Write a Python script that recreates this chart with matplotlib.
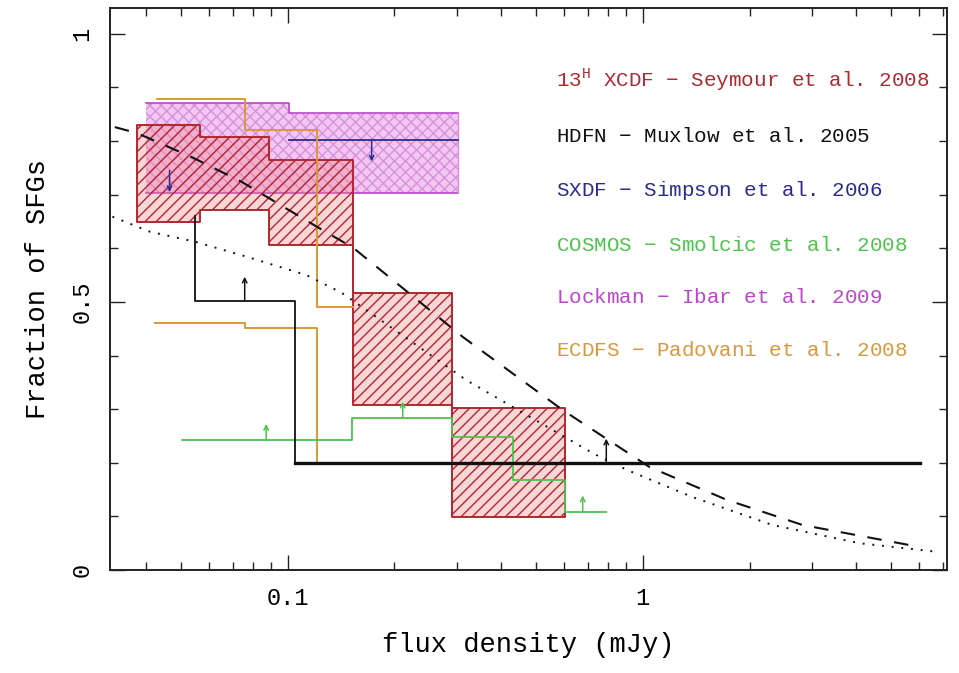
import matplotlib
matplotlib.use("Agg")
import matplotlib.pyplot as plt
from matplotlib.ticker import FixedLocator, MultipleLocator, NullFormatter

# ---- data (flux density in mJy, fraction of SFGs) ----
# 13H XCDF (Seymour et al. 2008): binned range of the SFG fraction
xcdf_edges = [0.0376, 0.0565, 0.0889, 0.1525, 0.291, 0.603]
xcdf_hi = [0.830, 0.808, 0.765, 0.517, 0.302]
xcdf_lo = [0.649, 0.672, 0.606, 0.308, 0.099]

# Lockman (Ibar et al. 2009)
lock_edges = [0.040, 0.101, 0.301]
lock_hi = [0.871, 0.852]
lock_lo = [0.703, 0.703]

# ECDFS (Padovani et al. 2009): upper and lower step curves
ecdfs_up_x = [0.043, 0.0757, 0.0757, 0.121, 0.121, 0.1525]
ecdfs_up_y = [0.879, 0.879, 0.821, 0.821, 0.491, 0.491]
ecdfs_lo_x = [0.0422, 0.0757, 0.0757, 0.121, 0.121]
ecdfs_lo_y = [0.461, 0.461, 0.452, 0.452, 0.200]

# HDFN (Muxlow et al. 2005): lower limits
hdfn_x = [0.0547, 0.0547, 0.1047, 0.1047]
hdfn_y = [0.660, 0.502, 0.502, 0.200]
hdfn_tail_x = [0.1047, 6.03]
hdfn_tail_y = [0.200, 0.200]
hdfn_arrow_x = [0.0757, 0.79]
hdfn_arrow_y = [0.502, 0.200]

# SXDF (Simpson et al. 2006): upper limit
sxdf_x = [0.101, 0.301]
sxdf_y = [0.802, 0.802]
sxdf_arrow_x = [0.1725, 0.0465]
sxdf_arrow_y = [0.802, 0.745]

# COSMOS (Smolcic et al. 2008): lower limits
cosmos_x = [0.0503, 0.152, 0.152, 0.291, 0.291, 0.43, 0.43, 0.603, 0.603, 0.79]
cosmos_y = [0.2425, 0.2425, 0.284, 0.284, 0.248, 0.248, 0.168, 0.168, 0.109, 0.109]
cosmos_arrow_x = [0.087, 0.211, 0.678]
cosmos_arrow_y = [0.2425, 0.284, 0.109]

# Model predictions
dash_x = [0.0326, 0.0376, 0.0537, 0.0742, 0.121, 0.153, 0.311, 0.595, 1.046, 1.724, 2.82, 6.03]
dash_y = [0.826, 0.815, 0.770, 0.724, 0.640, 0.601, 0.435, 0.2985, 0.192, 0.131, 0.084, 0.043]
dot_x = [0.0321, 0.0409, 0.0547, 0.0765, 0.113, 0.142, 0.319, 0.723, 0.901, 1.383, 2.32, 4.08, 6.74]
dot_y = [0.659, 0.631, 0.6125, 0.5845, 0.550, 0.517, 0.354, 0.218, 0.187, 0.136, 0.084, 0.050, 0.034]

legend_labels = [
    r"13$^{\rm H}$ XCDF $-$ Seymour et al. 2008",
    "HDFN $-$ Muxlow et al. 2005",
    "SXDF $-$ Simpson et al. 2006",
    "COSMOS $-$ Smolcic et al. 2008",
    "Lockman $-$ Ibar et al. 2009",
    "ECDFS $-$ Padovani et al. 2008",
]
legend_y = [0.914, 0.808, 0.707, 0.606, 0.509, 0.410]

C_RED = "#b02830"
C_BLACK = "#111111"
C_BLUE = "#2c2c8c"
C_GREEN = "#4cc44c"
C_PURPLE = "#b848c8"
C_ORANGE = "#d8983c"
legend_colors = [C_RED, C_BLACK, C_BLUE, C_GREEN, C_PURPLE, C_ORANGE]

plt.rcParams["font.family"] = ["Liberation Mono", "DejaVu Sans"]
plt.rcParams["mathtext.fontset"] = "custom"
plt.rcParams["mathtext.rm"] = "Liberation Mono"
plt.rcParams["hatch.linewidth"] = 1.0

fig = plt.figure(figsize=(9.59, 6.73), dpi=100)
ax = fig.add_axes([0.1147, 0.153, 0.8728, 0.835])
ax.set_xscale("log")
ax.set_xlim(0.0316, 7.2)
ax.set_ylim(0, 1.048)


def steps(edges, vals):
    return list(edges), list(vals) + [vals[-1]]


# Lockman cross-hatched band (light hatch, darker outline drawn separately)
lx, lhi = steps(lock_edges, lock_hi)
_, llo = steps(lock_edges, lock_lo)
ax.fill_between(lx, llo, lhi, step="post", facecolor="#f2c8f2",
                edgecolor="#d890dc", hatch="xxx", linewidth=0, zorder=1)
ax.step(lx, lhi, where="post", color=C_PURPLE, lw=1.2, zorder=1.5)
ax.step(lx, llo, where="post", color=C_PURPLE, lw=1.2, zorder=1.5)
ax.plot([lx[-1], lx[-1]], [llo[-1], lhi[-1]], color="#d890dc", lw=1.0, zorder=1.5)

# 13H XCDF hatched region
rx, rhi = steps(xcdf_edges, xcdf_hi)
_, rlo = steps(xcdf_edges, xcdf_lo)
ax.fill_between(rx, rlo, rhi, step="post", facecolor=(0.96, 0.50, 0.50, 0.32),
                edgecolor=C_RED, hatch="///", linewidth=1.4, zorder=2)

# SXDF
ax.plot(sxdf_x, sxdf_y, color=C_BLUE, lw=1.3, zorder=3)

# ECDFS
ax.plot(ecdfs_up_x, ecdfs_up_y, color=C_ORANGE, lw=1.4, zorder=3)
ax.plot(ecdfs_lo_x, ecdfs_lo_y, color=C_ORANGE, lw=1.4, zorder=3)

# HDFN
ax.plot(hdfn_x, hdfn_y, color=C_BLACK, lw=1.3, zorder=4)
ax.plot(hdfn_tail_x, hdfn_tail_y, color=C_BLACK, lw=2.4, zorder=4)

# COSMOS
ax.plot(cosmos_x, cosmos_y, color=C_GREEN, lw=1.3, zorder=3)

# Models
ax.plot(dash_x, dash_y, color=C_BLACK, lw=1.5, ls=(0, (7, 6)), zorder=4)
ax.plot(dot_x, dot_y, color=C_BLACK, lw=1.4, ls=(0, (1, 4)), zorder=4)


def limit_arrows(xs, ys, color, up=True, length=0.04):
    for x, y in zip(xs, ys):
        y2 = y + length if up else y - length
        ax.annotate("", xy=(x, y2), xytext=(x, y),
                    arrowprops=dict(arrowstyle="->", color=color, lw=1.1,
                                    mutation_scale=8, shrinkA=0, shrinkB=0),
                    zorder=5)


limit_arrows(hdfn_arrow_x, hdfn_arrow_y, C_BLACK, up=True, length=0.045)
limit_arrows(cosmos_arrow_x, cosmos_arrow_y, C_GREEN, up=True, length=0.03)
limit_arrows(sxdf_arrow_x, sxdf_arrow_y, C_BLUE, up=False, length=0.04)

# Survey labels: x in axes fraction, y in data units
ytr = ax.get_yaxis_transform()
for lab, col, yv in zip(legend_labels, legend_colors, legend_y):
    ax.text(0.533, yv, lab, color=col, fontsize=15, transform=ytr,
            va="center", ha="left", zorder=6)

# Axes styling
ax.xaxis.set_major_locator(FixedLocator([0.1, 1.0]))
ax.xaxis.set_minor_locator(FixedLocator(
    [m * 10.0 ** e for e in (-2, -1, 0) for m in range(2, 10)]))
ax.set_xticklabels(["0.1", "1"])
ax.xaxis.set_minor_formatter(NullFormatter())
ax.yaxis.set_major_locator(FixedLocator([0, 0.5, 1]))
ax.yaxis.set_minor_locator(MultipleLocator(0.1))
ax.set_yticklabels(["0", "0.5", "1"], rotation=90, va="center")
ax.tick_params(which="both", direction="in", top=True, right=True, width=1.0,
               labelsize=17, color="#222222")
ax.tick_params(which="major", length=11, pad=12)
ax.tick_params(which="minor", length=6)
for s in ax.spines.values():
    s.set_linewidth(1.4)
    s.set_color("#222222")

ax.set_xlabel("flux density (mJy)", fontsize=19.5, labelpad=16)
ax.set_ylabel("Fraction of SFGs", fontsize=19.5, labelpad=14)

fig.savefig("out.png", dpi=100)
